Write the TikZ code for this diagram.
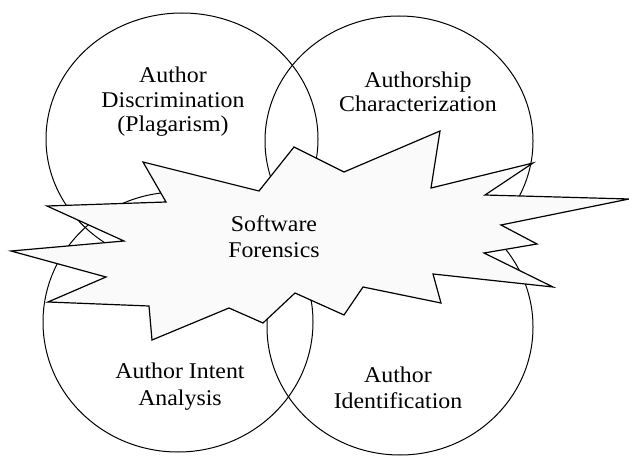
\documentclass[tikz,border=0pt]{standalone}
\usepackage{fontspec}
\setmainfont{Liberation Serif}[FakeStretch=1.06]
\usetikzlibrary{shapes.geometric}
\begin{document}
\begin{tikzpicture}[x=1pt,y=-1pt,
  area/.style={ellipse, draw, line width=1pt, inner sep=0pt},
  label/.style={align=center, inner sep=0pt, anchor=base},
  burst/.style={draw, line width=1.2pt, line join=miter, fill=black!2}]
\useasboundingbox (0,0) rectangle (629,457);

% four overlapping areas
\node[area, minimum width=272pt, minimum height=252pt] (tl) at (182,139) {};
\node[area, minimum width=268pt, minimum height=250pt] (tr) at (399,141) {};
\node[area, minimum width=270pt, minimum height=260pt] (bl) at (178,322) {};
\node[area, minimum width=266pt, minimum height=256pt] (br) at (400,327) {};

% central starburst
\draw[burst] (143,162) -- (259,191) -- (294,147) -- (344,172) -- (440,131)
  -- (431,188) -- (533,163) -- (485,195) -- (629,199) -- (501,225)
  -- (537,244) -- (484,253) -- (553,287) -- (433,274) -- (441,303)
  -- (363,287) -- (344,315) -- (295,293) -- (263,323) -- (229,308)
  -- (152,340) -- (149,306) -- (48,302) -- (106,277) -- (11,251)
  -- (124,241) -- (47,206) -- (166,202) -- cycle;

% labels (anchored at the baseline of the last line)
\node[label, font=\fontsize{22.5}{24.5}\selectfont] (ldis) at (173,132)
  {Author\\Discrimination\\(Plagarism)};
\node[label, font=\fontsize{22.5}{24}\selectfont] (lchar) at (418,112)
  {Authorship\\Characterization};
\node[label, font=\fontsize{22.5}{26}\selectfont] (lsoft) at (274,257)
  {Software\\Forensics};
\node[label, font=\fontsize{22.5}{27}\selectfont] (lint) at (180,405)
  {Author Intent\\Analysis};
\node[label, font=\fontsize{22.5}{26}\selectfont] (lid) at (398,408)
  {Author\\Identification};
\end{tikzpicture}
\end{document}
